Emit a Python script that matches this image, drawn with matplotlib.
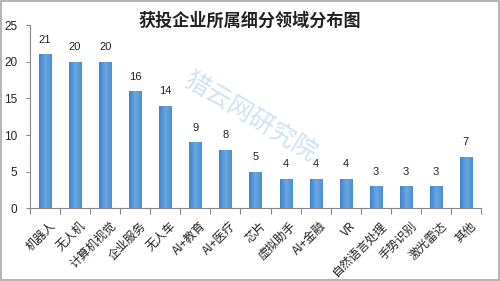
import matplotlib
matplotlib.use("Agg")
import matplotlib.pyplot as plt
import numpy as np
from matplotlib.patches import Rectangle
from matplotlib.colors import LinearSegmentedColormap

plt.rcParams['font.family'] = ['Noto Sans CJK SC', 'DejaVu Sans']

categories = ["机器人", "无人机", "计算机视觉", "企业服务", "无人车", "AI+教育", "AI+医疗", "芯片",
              "虚拟助手", "AI+金融", "VR", "自然语言处理", "手势识别", "激光雷达", "其他"]
values = [21, 20, 20, 16, 14, 9, 8, 5, 4, 4, 4, 3, 3, 3, 7]
title = "获投企业所属细分领域分布图"
yticks = [0, 5, 10, 15, 20, 25]

fig = plt.figure(figsize=(5, 2.81), dpi=100)
ax = fig.add_axes([0.06, 0.2587, 0.902, 0.652])

x = list(range(len(categories)))
bars = ax.bar(x, values, width=0.4, color="#5b9bd5", edgecolor="none", linewidth=0, zorder=2)
cmap = LinearSegmentedColormap.from_list("g", ["#3f82cc", "#6aa7df", "#4a8ed6"])
grad = np.linspace(0, 1, 64).reshape(1, -1)
for b in bars:
    bx, by, bw, bh = b.get_x(), b.get_y(), b.get_width(), b.get_height()
    im = ax.imshow(grad, cmap=cmap, extent=[bx, bx + bw, by, by + bh], aspect="auto", zorder=3)
    im.set_clip_path(b)

for xi, v in zip(x, values):
    ax.text(xi, v + 1.3, str(v), ha="center", va="bottom", fontsize=8,
            family=["Liberation Sans", "DejaVu Sans"], color="#222222")

ax.set_xlim(-0.5, len(categories) - 0.5)
ax.set_ylim(0, 25)
ax.set_yticks(yticks)
ax.set_yticklabels([str(t) for t in yticks], fontsize=8.5, family=["Liberation Sans", "DejaVu Sans"],
                   color="#222222")
ax.set_xticks([i + 0.5 for i in range(-1, len(categories))])
ax.set_xticklabels([])
ax.tick_params(axis="x", length=4, color="#888888")
ax.tick_params(axis="y", length=3, color="#888888", pad=6)
for xi, c in zip(x, categories):
    ax.text(xi + 0.13, -1.5, c, rotation=45, ha="right", va="top", fontsize=8.6,
            color="#222222", rotation_mode="anchor")

for s in ["top", "right"]:
    ax.spines[s].set_visible(False)
ax.spines["left"].set_color("#888888")
ax.spines["bottom"].set_color("#888888")

fig.text(0.5, 0.927, title, ha="center", va="center", fontsize=12.3, fontweight="bold", color="#222222")
fig.text(0.5, 0.585, "猎云网研究院", ha="center", va="center", fontsize=18, rotation=-31,
         color="#bcd6ef", alpha=0.7, fontweight="light")

fig.patches.append(Rectangle((0.002, 0.004), 0.996, 0.992, transform=fig.transFigure,
                             fill=False, edgecolor="#a8a8a8", linewidth=1.2))
fig.savefig("out.png", dpi=100)
